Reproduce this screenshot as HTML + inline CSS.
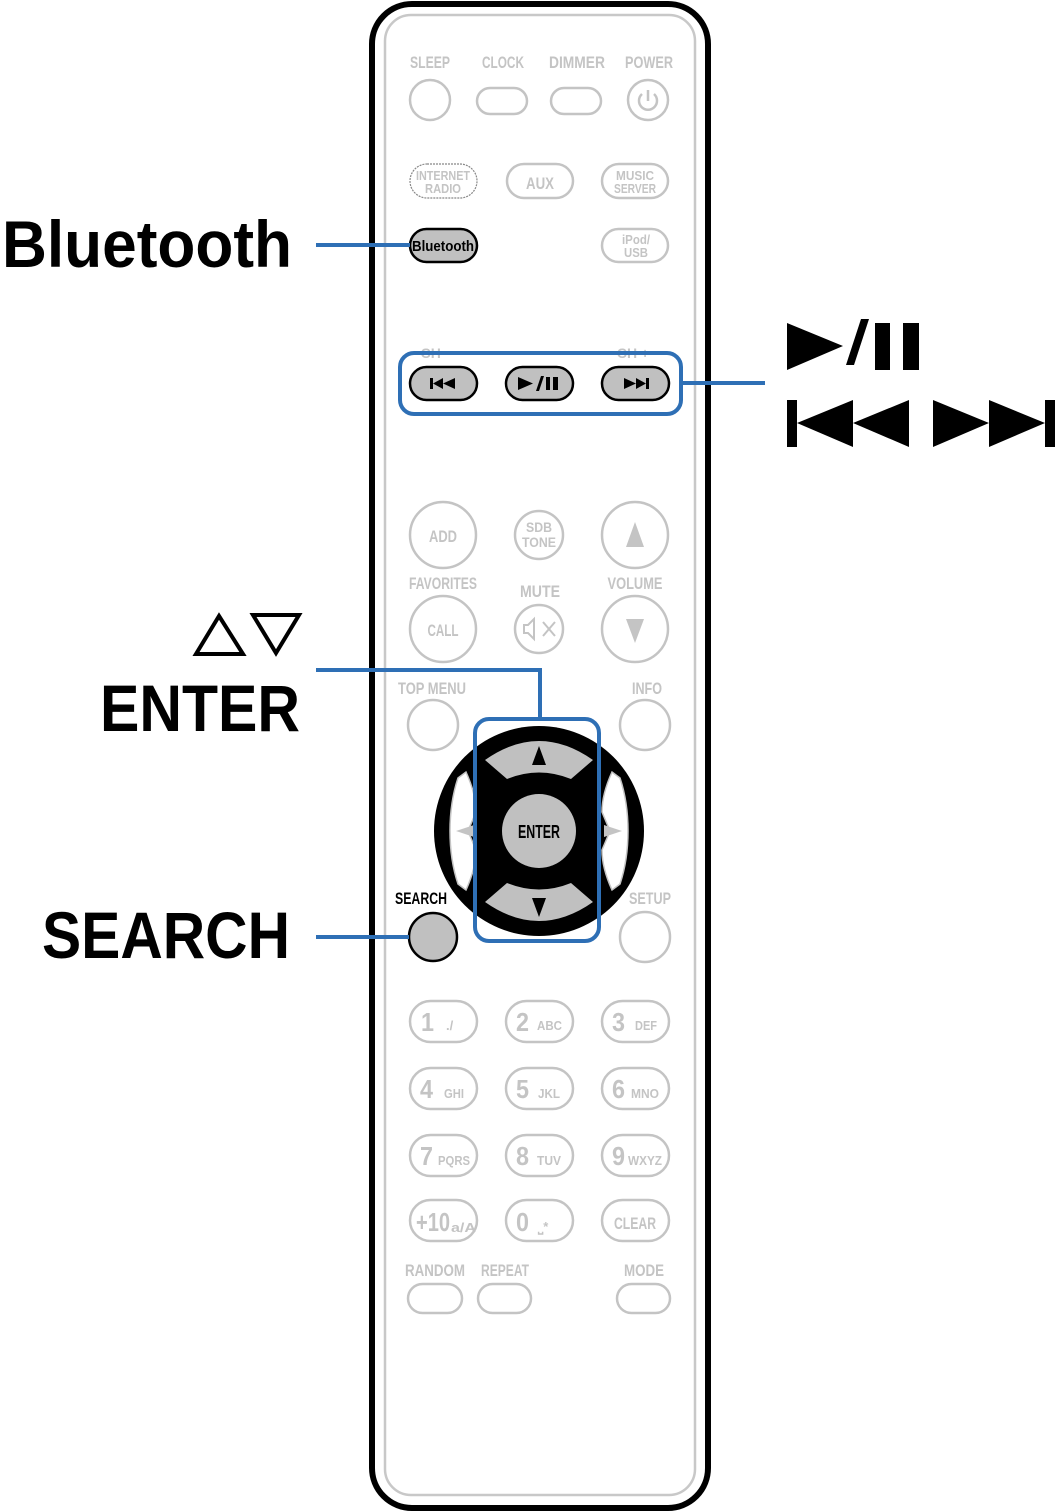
<!DOCTYPE html>
<html><head><meta charset="utf-8"><style>
html,body{margin:0;padding:0;background:#fff;}
svg{display:block;}
.g{fill:#c4c4c4;font-family:"Liberation Sans Narrow","Liberation Sans",sans-serif;font-weight:bold;text-anchor:middle;}
.s{text-anchor:start;}
.b{fill:none;stroke:#c4c4c4;stroke-width:2.5;}
.big{font-family:"Liberation Sans",sans-serif;font-weight:bold;fill:#000;}
</style></head><body>
<svg width="1059" height="1512" viewBox="0 0 1059 1512" xmlns="http://www.w3.org/2000/svg">
<rect x="372" y="4" width="336" height="1504" rx="40" fill="#fff" stroke="#000" stroke-width="6"/>
<rect x="385" y="15" width="310" height="1480" rx="26" fill="none" stroke="#c8c8c8" stroke-width="2.5"/>

<g class="g" font-size="17">
<text x="430" y="68" textLength="40" lengthAdjust="spacingAndGlyphs">SLEEP</text>
<text x="503" y="68" textLength="42" lengthAdjust="spacingAndGlyphs">CLOCK</text>
<text x="577" y="68" textLength="56" lengthAdjust="spacingAndGlyphs">DIMMER</text>
<text x="649" y="68" textLength="48" lengthAdjust="spacingAndGlyphs">POWER</text>
</g>
<circle class="b" cx="430" cy="100" r="20"/>
<rect class="b" x="477" y="88" width="50" height="26" rx="13"/>
<rect class="b" x="551" y="88" width="50" height="26" rx="13"/>
<circle class="b" cx="648" cy="100" r="20"/>
<path d="M642 94 A9 9 0 1 0 654 94 M648 90 L648 101" fill="none" stroke="#c4c4c4" stroke-width="2.5"/>

<rect x="410" y="164" width="67" height="34" rx="17" fill="none" stroke="#888" stroke-width="1.2" stroke-dasharray="2 1"/>
<rect class="b" x="507" y="164" width="66" height="34" rx="17"/>
<rect class="b" x="602" y="164" width="66" height="34" rx="17"/>
<g class="g" font-size="13">
<text x="443" y="180" textLength="54" lengthAdjust="spacingAndGlyphs">INTERNET</text>
<text x="443" y="193" textLength="36" lengthAdjust="spacingAndGlyphs">RADIO</text>
<text x="635" y="180" textLength="38" lengthAdjust="spacingAndGlyphs">MUSIC</text>
<text x="635" y="193" textLength="42" lengthAdjust="spacingAndGlyphs">SERVER</text>
<text x="636" y="244" textLength="28" lengthAdjust="spacingAndGlyphs">iPod/</text>
<text x="636" y="257" textLength="24" lengthAdjust="spacingAndGlyphs">USB</text>
</g>
<text class="g" x="540" y="189" font-size="17" textLength="28" lengthAdjust="spacingAndGlyphs">AUX</text>
<rect x="410" y="229" width="67" height="33" rx="16.5" fill="#c0c0c0" stroke="#000" stroke-width="2.5"/>
<text x="443" y="251" font-family="Liberation Sans Narrow,Liberation Sans,sans-serif" font-weight="bold" font-size="15" text-anchor="middle" textLength="62" lengthAdjust="spacingAndGlyphs">Bluetooth</text>
<rect class="b" x="602" y="229" width="66" height="33" rx="16.5"/>
<line x1="316" y1="245" x2="410" y2="245" stroke="#2e6fb5" stroke-width="4"/>

<g class="g" font-size="14"><text x="435" y="358">CH -</text><text x="633" y="358">CH +</text></g>
<rect x="410" y="367" width="67" height="33" rx="16.5" fill="#c0c0c0" stroke="#000" stroke-width="2.5"/>
<rect x="506" y="367" width="67" height="33" rx="16.5" fill="#c0c0c0" stroke="#000" stroke-width="2.5"/>
<rect x="602" y="367" width="67" height="33" rx="16.5" fill="#c0c0c0" stroke="#000" stroke-width="2.5"/>
<g fill="#000">
<rect x="430" y="378" width="3" height="11"/><polygon points="433,383.5 443,378 443,389"/><polygon points="443,383.5 455,378 455,389"/>
<polygon points="518,377 533,383.5 518,390"/><polygon points="536,391 539,391 544,376 541,376"/><rect x="546" y="377" width="4" height="13"/><rect x="553" y="377" width="5" height="13"/>
<polygon points="624,378 636,383.5 624,389"/><polygon points="636,378 646,383.5 636,389"/><rect x="646" y="378" width="3" height="11"/>
</g>
<rect x="400" y="353" width="281" height="61" rx="14" fill="none" stroke="#2e6fb5" stroke-width="4"/>
<line x1="681" y1="383" x2="765" y2="383" stroke="#2e6fb5" stroke-width="4"/>

<circle class="b" cx="443" cy="535" r="33"/>
<circle class="b" cx="539" cy="535" r="24"/>
<circle class="b" cx="635" cy="535" r="33"/>
<circle class="b" cx="443" cy="629" r="33"/>
<circle class="b" cx="539" cy="629" r="24"/>
<circle class="b" cx="635" cy="629" r="33"/>
<polygon points="635,522 626,547 644,547" fill="#c4c4c4"/>
<polygon points="626,619 644,619 635,643" fill="#c4c4c4"/>
<g class="g">
<text x="443" y="542" font-size="17" textLength="28" lengthAdjust="spacingAndGlyphs">ADD</text>
<text x="539" y="532" font-size="14" textLength="26" lengthAdjust="spacingAndGlyphs">SDB</text>
<text x="539" y="547" font-size="14" textLength="34" lengthAdjust="spacingAndGlyphs">TONE</text>
<text x="443" y="589" font-size="17" textLength="68" lengthAdjust="spacingAndGlyphs">FAVORITES</text>
<text x="540" y="597" font-size="17" textLength="40" lengthAdjust="spacingAndGlyphs">MUTE</text>
<text x="635" y="589" font-size="17" textLength="55" lengthAdjust="spacingAndGlyphs">VOLUME</text>
<text x="443" y="636" font-size="17" textLength="31" lengthAdjust="spacingAndGlyphs">CALL</text>
<text x="432" y="694" font-size="17" textLength="68" lengthAdjust="spacingAndGlyphs">TOP MENU</text>
<text x="647" y="694" font-size="17" textLength="30" lengthAdjust="spacingAndGlyphs">INFO</text>
<text x="650" y="904" font-size="17" textLength="42" lengthAdjust="spacingAndGlyphs">SETUP</text>
</g>
<path d="M524 625 h4 l6 -6 v20 l-6 -6 h-4 z M543 622 l12 14 M555 622 l-12 14" fill="none" stroke="#c4c4c4" stroke-width="2"/>

<circle class="b" cx="433" cy="725" r="25"/>
<circle class="b" cx="645" cy="725" r="25"/>
<circle class="b" cx="645" cy="937" r="25"/>

<circle cx="539" cy="831" r="105" fill="#000"/>
<path d="M458 778 Q450 802 450 831 Q450 860 458 884 L466 890 Q476 868 476 850 L468 831 L476 812 Q476 794 466 772 Z" fill="#fff" stroke="#c4c4c4" stroke-width="1.5"/>
<path d="M620 778 Q628 802 628 831 Q628 860 620 884 L612 890 Q602 868 602 850 L610 831 L602 812 Q602 794 612 772 Z" fill="#fff" stroke="#c4c4c4" stroke-width="1.5"/>
<polygon points="456,831 474,825 474,837" fill="#c4c4c4"/>
<polygon points="622,831 604,825 604,837" fill="#c4c4c4"/>
<path d="M485 760 Q539 722 593 760 L571 779 Q539 766 507 779 Z" fill="#c0c0c0"/>
<path d="M485 902 Q539 940 593 902 L571 883 Q539 896 507 883 Z" fill="#c0c0c0"/>
<polygon points="539,746 532,765 546,765" fill="#000"/>
<polygon points="532,898 546,898 539,917" fill="#000"/>
<circle cx="539" cy="831" r="37" fill="#c0c0c0"/>
<text x="539" y="838" font-family="Liberation Sans Narrow,Liberation Sans,sans-serif" font-weight="bold" font-size="18" text-anchor="middle" textLength="42" lengthAdjust="spacingAndGlyphs">ENTER</text>
<rect x="475" y="719" width="124" height="222" rx="14" fill="none" stroke="#2e6fb5" stroke-width="4"/>
<polyline points="540,719 540,670 316,670" fill="none" stroke="#2e6fb5" stroke-width="4"/>

<text x="421" y="904" font-family="Liberation Sans Narrow,Liberation Sans,sans-serif" font-weight="bold" font-size="17" text-anchor="middle" textLength="52" lengthAdjust="spacingAndGlyphs">SEARCH</text>
<circle cx="433" cy="937" r="24" fill="#c0c0c0" stroke="#000" stroke-width="2.5"/>
<line x1="316" y1="937" x2="409" y2="937" stroke="#2e6fb5" stroke-width="4"/>

<g>
<rect class="b" x="410" y="1001" width="67" height="41" rx="20.5"/><rect class="b" x="506" y="1001" width="67" height="41" rx="20.5"/><rect class="b" x="602" y="1001" width="67" height="41" rx="20.5"/>
<rect class="b" x="410" y="1068" width="67" height="41" rx="20.5"/><rect class="b" x="506" y="1068" width="67" height="41" rx="20.5"/><rect class="b" x="602" y="1068" width="67" height="41" rx="20.5"/>
<rect class="b" x="410" y="1135" width="67" height="41" rx="20.5"/><rect class="b" x="506" y="1135" width="67" height="41" rx="20.5"/><rect class="b" x="602" y="1135" width="67" height="41" rx="20.5"/>
<rect class="b" x="410" y="1200" width="67" height="41" rx="20.5"/><rect class="b" x="506" y="1200" width="67" height="41" rx="20.5"/><rect class="b" x="602" y="1200" width="67" height="41" rx="20.5"/>
</g>
<g class="g s" font-size="26">
<text x="421" y="1031" textLength="13" lengthAdjust="spacingAndGlyphs">1</text><text x="516" y="1031" textLength="13" lengthAdjust="spacingAndGlyphs">2</text><text x="612" y="1031" textLength="13" lengthAdjust="spacingAndGlyphs">3</text>
<text x="420" y="1098" textLength="13" lengthAdjust="spacingAndGlyphs">4</text><text x="516" y="1098" textLength="13" lengthAdjust="spacingAndGlyphs">5</text><text x="612" y="1098" textLength="13" lengthAdjust="spacingAndGlyphs">6</text>
<text x="420" y="1165" textLength="13" lengthAdjust="spacingAndGlyphs">7</text><text x="516" y="1165" textLength="13" lengthAdjust="spacingAndGlyphs">8</text><text x="612" y="1165" textLength="13" lengthAdjust="spacingAndGlyphs">9</text>
<text x="416" y="1231" textLength="34" lengthAdjust="spacingAndGlyphs">+10</text><text x="516" y="1231" textLength="13" lengthAdjust="spacingAndGlyphs">0</text>
</g>
<g class="g s" font-size="13">
<text x="446" y="1030">./</text><text x="537" y="1030" textLength="25" lengthAdjust="spacingAndGlyphs">ABC</text><text x="635" y="1030" textLength="22" lengthAdjust="spacingAndGlyphs">DEF</text>
<text x="444" y="1098" textLength="20" lengthAdjust="spacingAndGlyphs">GHI</text><text x="538" y="1098" textLength="22" lengthAdjust="spacingAndGlyphs">JKL</text><text x="631" y="1098" textLength="28" lengthAdjust="spacingAndGlyphs">MNO</text>
<text x="438" y="1165" textLength="32" lengthAdjust="spacingAndGlyphs">PQRS</text><text x="537" y="1165" textLength="24" lengthAdjust="spacingAndGlyphs">TUV</text><text x="628" y="1165" textLength="34" lengthAdjust="spacingAndGlyphs">WXYZ</text>
<text x="451" y="1232" textLength="25" lengthAdjust="spacingAndGlyphs">a/A</text><text x="538" y="1231">⎵*</text>
</g>
<text class="g" x="635" y="1229" font-size="17" textLength="42" lengthAdjust="spacingAndGlyphs">CLEAR</text>
<g class="g" font-size="17">
<text x="435" y="1276" textLength="60" lengthAdjust="spacingAndGlyphs">RANDOM</text>
<text x="505" y="1276" textLength="48" lengthAdjust="spacingAndGlyphs">REPEAT</text>
<text x="644" y="1276" textLength="40" lengthAdjust="spacingAndGlyphs">MODE</text>
</g>
<rect class="b" x="408" y="1284" width="54" height="29" rx="14.5"/>
<rect class="b" x="478" y="1284" width="53" height="29" rx="14.5"/>
<rect class="b" x="617" y="1284" width="53" height="29" rx="14.5"/>

<text class="big" x="2" y="267" font-size="66" textLength="290" lengthAdjust="spacingAndGlyphs">Bluetooth</text>
<polygon points="219,616 243,654 196,654" fill="none" stroke="#000" stroke-width="4"/>
<polygon points="253,615 299,615 276,653" fill="none" stroke="#000" stroke-width="4"/>
<text class="big" x="100" y="731" font-size="66" textLength="200" lengthAdjust="spacingAndGlyphs">ENTER</text>
<text class="big" x="42" y="958" font-size="66" textLength="248" lengthAdjust="spacingAndGlyphs">SEARCH</text>

<g fill="#000">
<polygon points="787,323 843,346 787,370"/>
<polygon points="846,365 854,365 869,319 861,319"/>
<rect x="875" y="323" width="15" height="47"/><rect x="903" y="323" width="16" height="47"/>
<rect x="787" y="400" width="10" height="47"/>
<polygon points="797,423 853,400 853,447"/><polygon points="853,423 909,400 909,447"/>
<polygon points="933,400 989,423 933,447"/><polygon points="989,400 1045,423 989,447"/>
<rect x="1045" y="400" width="10" height="47"/>
</g>
</svg>
</body></html>
